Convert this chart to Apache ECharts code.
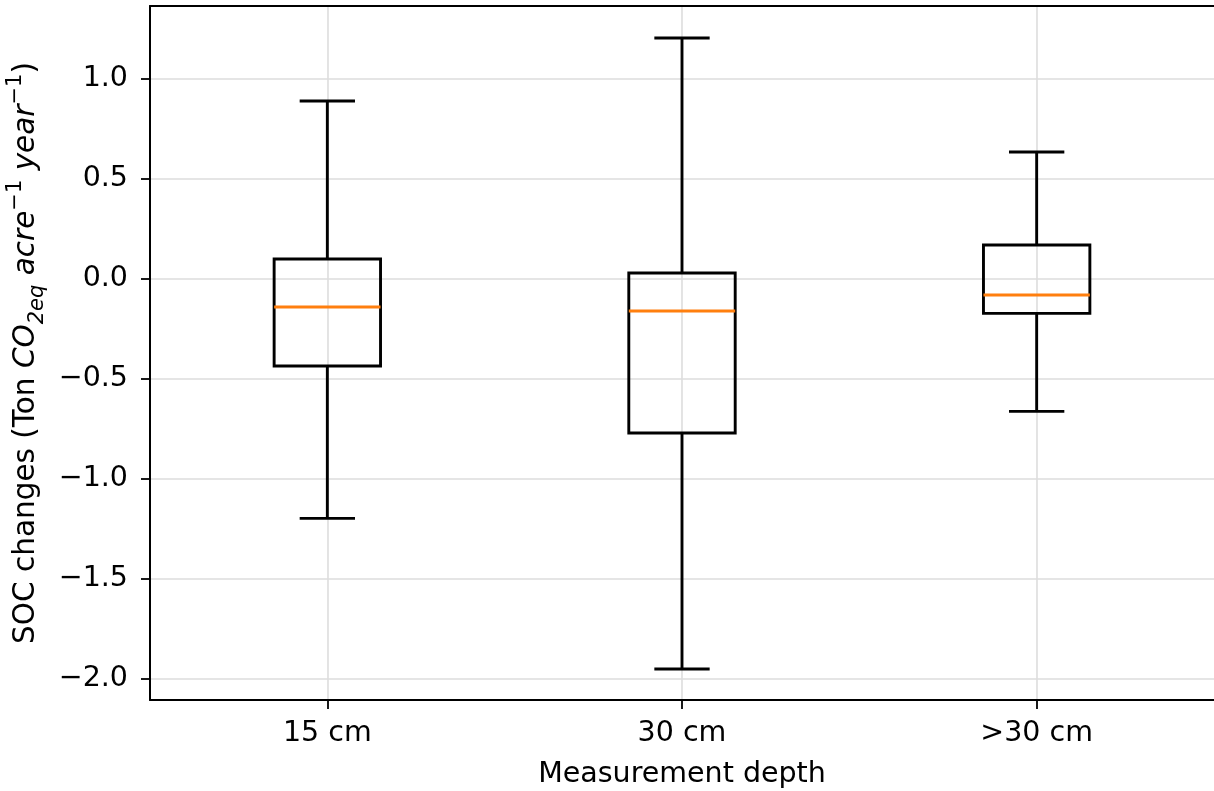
<!DOCTYPE html>
<html>
<head>
<meta charset="utf-8">
<script src="https://cdn.jsdelivr.net/npm/echarts@6/dist/echarts.min.js"></script>
<style>
html,body{margin:0;padding:0;background:#fff;}
#chart{width:1214px;height:791px;}
</style>
</head>
<body>
<div id="chart"></div>
<script>
const categories = ['15 cm', '30 cm', '>30 cm'];
const whiskerLow = [-1.197, -1.95, -0.662];
const q1 = [-0.435, -0.77, -0.172];
const median = [-0.14, -0.16, -0.08];
const q3 = [0.10, 0.03, 0.17];
const whiskerHigh = [0.89, 1.205, 0.635];
const yTicks = [-2.0, -1.5, -1.0, -0.5, 0.0, 0.5, 1.0];
const xGridPositions = [0.5, 1.5, 2.5];

const font = 'DejaVu Sans';
const boxData = categories.map((c, i) => [i, whiskerLow[i], q1[i], median[i], q3[i], whiskerHigh[i]]);

const chart = echarts.init(document.getElementById('chart'), null, {renderer: 'canvas'});

function renderBox(params, api) {
  const idx = api.value(0);
  const band = api.size([1, 0])[0];
  const halfBox = band * 0.15;
  const halfCap = band * 0.078;
  const pLow = api.coord([idx, api.value(1)]);
  const pQ1 = api.coord([idx, api.value(2)]);
  const pMed = api.coord([idx, api.value(3)]);
  const pQ3 = api.coord([idx, api.value(4)]);
  const pHigh = api.coord([idx, api.value(5)]);
  const cx = pQ1[0];
  const black = {stroke: '#000', lineWidth: 2.9, fill: null};
  return {
    type: 'group',
    children: [
      {type: 'line', shape: {x1: cx, y1: pQ3[1], x2: cx, y2: pHigh[1]}, style: black},
      {type: 'line', shape: {x1: cx, y1: pQ1[1], x2: cx, y2: pLow[1]}, style: black},
      {type: 'line', shape: {x1: cx - halfCap, y1: pHigh[1], x2: cx + halfCap, y2: pHigh[1]}, style: black},
      {type: 'line', shape: {x1: cx - halfCap, y1: pLow[1], x2: cx + halfCap, y2: pLow[1]}, style: black},
      {type: 'rect', shape: {x: cx - halfBox, y: pQ3[1], width: halfBox * 2, height: pQ1[1] - pQ3[1]},
        style: {stroke: '#000', lineWidth: 2.9, fill: 'rgba(0,0,0,0)'}},
      {type: 'line', shape: {x1: cx - halfBox, y1: pMed[1], x2: cx + halfBox, y2: pMed[1]},
        style: {stroke: '#ff7f0e', lineWidth: 2.9}}
    ]
  };
}

const option = {
  backgroundColor: '#fff',
  animation: false,
  grid: {left: 150, right: 0, top: 6, bottom: 91, containLabel: false, outerBoundsMode: 'none'},
  xAxis: [
    {
      type: 'category',
      data: categories,
      boundaryGap: true,
      position: 'bottom',
      name: 'Measurement depth',
      nameLocation: 'middle',
      nameGap: 60,
      nameTextStyle: {fontFamily: font, fontSize: 28.5, color: '#000'},
      axisLine: {show: true, onZero: false, lineStyle: {color: '#000', width: 2}},
      axisTick: {show: true, alignWithLabel: true, length: 9, lineStyle: {color: '#000', width: 1.8}},
      axisLabel: {fontFamily: font, fontSize: 28.5, color: '#000', margin: 19},
      splitLine: {show: false}
    },
    {
      type: 'value',
      position: 'top',
      min: 0,
      max: 3,
      axisLine: {show: true, onZero: false, lineStyle: {color: '#000', width: 2}},
      axisTick: {show: false, customValues: xGridPositions},
      axisLabel: {show: false, customValues: xGridPositions},
      splitLine: {show: true, lineStyle: {color: '#dddddd', width: 1.6}}
    }
  ],
  yAxis: {
    type: 'value',
    min: -2.105,
    max: 1.365,
    name: 'SOC changes (Ton {i|CO}{sub|2eq} {i|acre}{sup|\u22121} {i|year}{sup|\u22121})',
    nameLocation: 'middle',
    nameRotate: 90,
    nameGap: 102,
    nameTextStyle: {
      fontFamily: font, fontSize: 29.5, color: '#000', lineHeight: 43,
      rich: {
        i: {fontFamily: font, fontStyle: 'italic', fontSize: 29.5, color: '#000', lineHeight: 43},
        sub: {fontFamily: font, fontStyle: 'italic', fontSize: 21, color: '#000', verticalAlign: 'bottom', lineHeight: 37},
        sup: {fontFamily: font, fontSize: 21, color: '#000', verticalAlign: 'top', lineHeight: 41}
      }
    },
    axisLine: {show: true, onZero: false, lineStyle: {color: '#000', width: 2}},
    axisTick: {show: true, length: 9, customValues: yTicks, lineStyle: {color: '#000', width: 1.8}},
    axisLabel: {
      fontFamily: font, fontSize: 28.5, color: '#000', margin: 22,
      customValues: yTicks,
      formatter: v => (v < 0 ? '\u2212' : '') + Math.abs(v).toFixed(1)
    },
    splitLine: {show: true, lineStyle: {color: '#dddddd', width: 1.6}}
  },
  series: [{
    type: 'custom',
    xAxisIndex: 0,
    yAxisIndex: 0,
    renderItem: renderBox,
    encode: {x: 0, y: [1, 2, 3, 4, 5]},
    data: boxData,
    z: 10
  }]
};
chart.setOption(option);
</script>
</body>
</html>
